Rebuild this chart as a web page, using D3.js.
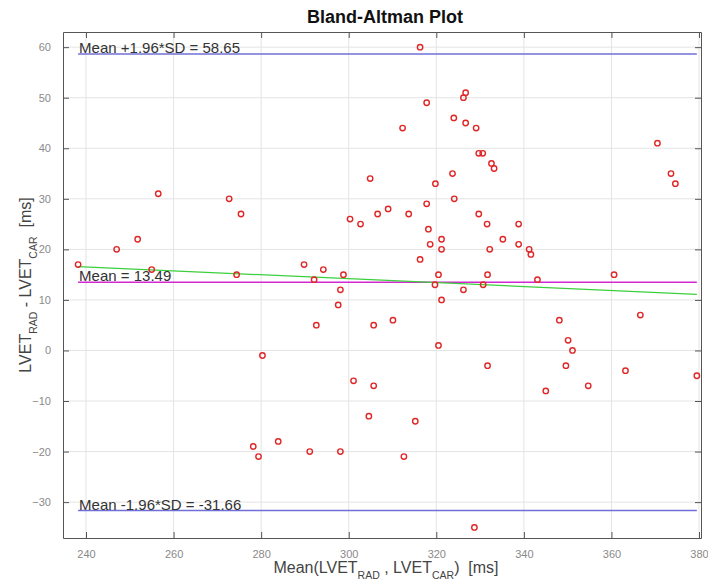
<!DOCTYPE html>
<html>
<head>
<meta charset="utf-8">
<script src="https://cdn.jsdelivr.net/npm/d3@7"></script>
<style>
  body { margin: 0; background: #fff; }
  svg { display: block; font-family: "Liberation Sans", Arial, sans-serif; }
</style>
</head>
<body>
<div id="chart"></div>
<script>
// Mean of the two methods (x) and their difference (y)
const meanVals = [
  238.2, 247.0, 251.8, 255.0, 256.5, 272.7, 274.4, 275.4, 278.2, 279.4,
  280.3, 283.9, 289.8, 291.1, 292.1, 292.6, 294.2, 297.6, 298.1, 298.1,
  298.8, 300.3, 301.1, 302.7, 304.6, 304.9, 305.7, 305.7, 306.6, 309.0,
  310.1, 312.3, 312.6, 313.7, 315.2, 316.3, 316.3, 317.8, 317.8, 318.2,
  318.6, 319.7, 319.8, 320.5, 320.5, 321.2, 321.2, 321.2, 323.7, 324.0,
  324.1, 326.2, 326.2, 326.7, 326.7, 328.7, 329.1, 329.7, 330.6, 329.7,
  330.7, 331.6, 331.7, 331.7, 332.2, 332.6, 333.2, 335.2, 338.8, 338.8,
  341.2, 341.6, 343.1, 345.0, 348.1, 349.6, 350.1, 351.1, 354.7, 360.6,
  363.2, 366.6, 370.5, 373.6, 374.6, 379.5
];
const diffVals = [
  17, 20, 22, 16, 31, 30, 15, 27, -19, -21,
  -1, -18, 17, -20, 14, 5, 16, 9, 12, -20,
  15, 26, -6, 25, -13, 34, 5, -7, 27, 28,
  6, 44, -21, 27, -14, 60, 18, 49, 29, 24,
  21, 13, 33, 15, 1, 22, 20, 10, 35, 46,
  30, 50, 12, 51, 45, -35, 44, 39, 39, 27,
  13, 25, 15, -3, 20, 37, 36, 22, 25, 21,
  20, 19, 14, -8, 6, -3, 2, 0, -7, 15,
  -4, 7, 41, 35, 33, -5
];

// Reference lines
const meanDiff = 13.49;
const upperLoA = 58.65;
const lowerLoA = -31.66;

// Trend line (regression of difference on mean), end values
const trendY = [16.6, 11.1];

const xTicks = [240, 260, 280, 300, 320, 340, 360, 380];
const yTicks = [-30, -20, -10, 0, 10, 20, 30, 40, 50, 60];

const width = 708;
const height = 588;
const margin = { top: 32, right: 7, bottom: 50, left: 63 };

const points = meanVals.map((m, i) => ({ m, d: diffVals[i] }));

const xS = d3.scaleLinear()
  .domain([234.75, 380.45])
  .range([margin.left, width - margin.right]);

const yS = d3.scaleLinear()
  .domain([-37.1, 63])
  .range([height - margin.bottom, margin.top]);

const svg = d3.select("#chart").append("svg")
  .attr("width", width)
  .attr("height", height)
  .attr("viewBox", [0, 0, width, height]);

const x0 = margin.left, x1 = width - margin.right;
const y0 = height - margin.bottom, y1 = margin.top;

// grid
svg.append("g")
  .attr("stroke", "#e4e4e4")
  .attr("stroke-width", 1)
  .call(g => g.selectAll("line.v").data(xTicks).join("line")
    .attr("x1", d => xS(d)).attr("x2", d => xS(d))
    .attr("y1", y1).attr("y2", y0))
  .call(g => g.selectAll("line.h").data(yTicks).join("line")
    .attr("x1", x0).attr("x2", x1)
    .attr("y1", d => yS(d)).attr("y2", d => yS(d)));

// axes (ticks inward on all four sides, like a boxed plot)
const tickLen = 6;
const axisColor = "#555";
const tickText = "#8a8a8a";

svg.append("g")
  .attr("transform", `translate(0,${y0})`)
  .call(d3.axisBottom(xS).tickValues(xTicks).tickSize(-tickLen).tickPadding(12).tickSizeOuter(0))
  .call(g => g.select(".domain").attr("stroke", axisColor))
  .call(g => g.selectAll(".tick line").attr("stroke", axisColor))
  .call(g => g.selectAll(".tick text").attr("fill", tickText).attr("font-size", 11)
    .attr("font-family", "Liberation Sans, Arial, sans-serif"));

svg.append("g")
  .attr("transform", `translate(0,${y1})`)
  .call(d3.axisTop(xS).tickValues(xTicks).tickSize(-tickLen).tickFormat("").tickSizeOuter(0))
  .call(g => g.select(".domain").attr("stroke", axisColor))
  .call(g => g.selectAll(".tick line").attr("stroke", axisColor));

svg.append("g")
  .attr("transform", `translate(${x0},0)`)
  .call(d3.axisLeft(yS).tickValues(yTicks).tickSize(-tickLen).tickPadding(12).tickSizeOuter(0))
  .call(g => g.select(".domain").attr("stroke", axisColor))
  .call(g => g.selectAll(".tick line").attr("stroke", axisColor))
  .call(g => g.selectAll(".tick text").attr("fill", tickText).attr("font-size", 11)
    .attr("font-family", "Liberation Sans, Arial, sans-serif"));

svg.append("g")
  .attr("transform", `translate(${x1},0)`)
  .call(d3.axisRight(yS).tickValues(yTicks).tickSize(-tickLen).tickFormat("").tickSizeOuter(0))
  .call(g => g.select(".domain").attr("stroke", axisColor))
  .call(g => g.selectAll(".tick line").attr("stroke", axisColor));

// reference lines span the range of the means
const [mMin, mMax] = d3.extent(meanVals);

const refLines = [
  { v: upperLoA, color: "#6f6fd8", label: `Mean +1.96*SD = ${upperLoA.toFixed(2)}` },
  { v: meanDiff, color: "#d228d2", label: `Mean = ${meanDiff.toFixed(2)}` },
  { v: lowerLoA, color: "#6f6fd8", label: `Mean -1.96*SD = ${lowerLoA.toFixed(2)}` },
];

svg.append("g")
  .selectAll("line")
  .data(refLines)
  .join("line")
  .attr("x1", xS(mMin)).attr("x2", xS(mMax))
  .attr("y1", d => yS(d.v)).attr("y2", d => yS(d.v))
  .attr("stroke", d => d.color)
  .attr("stroke-width", 1.3);

// trend line
svg.append("line")
  .attr("x1", xS(mMin)).attr("x2", xS(mMax))
  .attr("y1", yS(trendY[0])).attr("y2", yS(trendY[1]))
  .attr("stroke", "#3ccf3c")
  .attr("stroke-width", 1.3);

// points
svg.append("g")
  .attr("fill", "none")
  .attr("stroke", "#e02626")
  .attr("stroke-width", 1.4)
  .selectAll("circle")
  .data(points)
  .join("circle")
  .attr("cx", d => xS(d.m))
  .attr("cy", d => yS(d.d))
  .attr("r", 2.7);

// reference labels
svg.append("g")
  .selectAll("text")
  .data(refLines)
  .join("text")
  .attr("x", xS(mMin) + 1)
  .attr("y", d => yS(d.v) - 1)
  .attr("fill", "#333")
  .attr("font-size", 15)
  .text(d => d.label);

// title
svg.append("text")
  .attr("x", (x0 + x1) / 2 + 3)
  .attr("y", 23)
  .attr("text-anchor", "middle")
  .attr("font-size", 18)
  .attr("font-weight", "bold")
  .attr("fill", "#111")
  .text("Bland-Altman Plot");

// labels with subscripts
function subLabel(sel, parts) {
  parts.forEach(p => {
    const t = sel.append("tspan").text(p.t);
    if (p.sub) t.attr("font-size", 10.5).attr("dy", 6);
    else if (p.after) t.attr("dy", -6);
  });
}

const xLab = svg.append("text")
  .attr("x", (x0 + x1) / 2 + 4)
  .attr("y", 573)
  .attr("text-anchor", "middle")
  .attr("font-size", 16)
  .attr("fill", "#444");
subLabel(xLab, [
  { t: "Mean(LVET" }, { t: "RAD", sub: true }, { t: " , LVET", after: true },
  { t: "CAR", sub: true }, { t: ")\u00a0\u00a0[ms]", after: true }
]);

const yLab = svg.append("text")
  .attr("transform", `translate(31,${(y0 + y1) / 2}) rotate(-90)`)
  .attr("text-anchor", "middle")
  .attr("font-size", 16)
  .attr("fill", "#444");
subLabel(yLab, [
  { t: "LVET" }, { t: "RAD", sub: true }, { t: " - LVET", after: true },
  { t: "CAR", sub: true }, { t: "\u00a0\u00a0[ms]", after: true }
]);
</script>
</body>
</html>
